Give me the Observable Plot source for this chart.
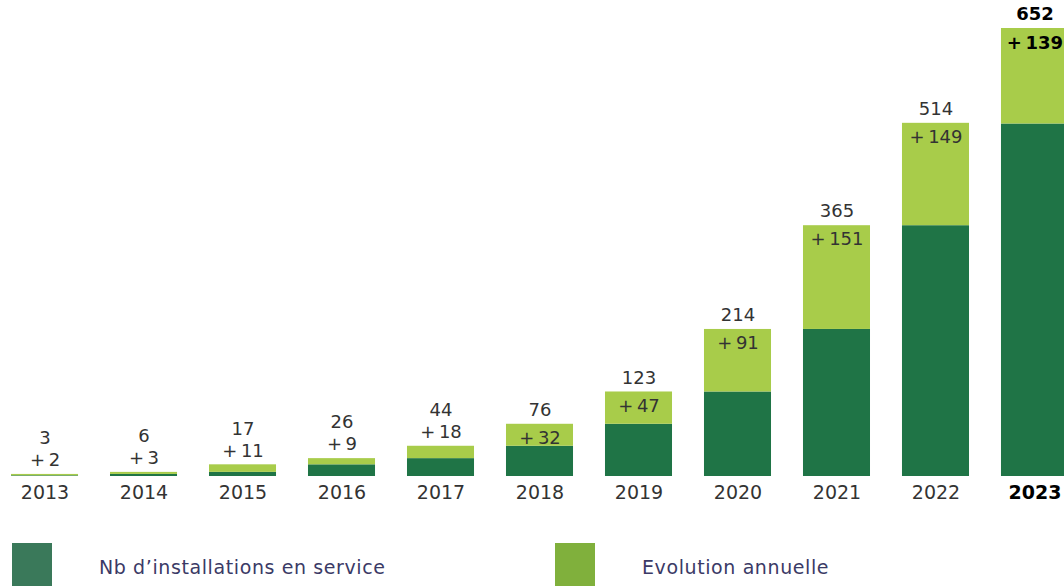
<!DOCTYPE html>
<html><head><meta charset="utf-8">
<script src="https://cdn.jsdelivr.net/npm/d3@7"></script>
<script src="https://cdn.jsdelivr.net/npm/@observablehq/plot@0.6"></script>
<style>
body{margin:0;background:#fff;width:1064px;height:586px;overflow:hidden;position:relative;font-family:"DejaVu Sans",sans-serif;}
.leg{position:absolute;top:543px;width:40px;height:43px;}
.legt{position:absolute;top:556px;font-family:"DejaVu Sans",sans-serif;font-size:19px;color:#3b3a66;letter-spacing:0.6px;}
</style></head><body>
<div id="chart"></div>
<div class="leg" style="left:12px;background:#3a795a"></div>
<div class="legt" style="left:99px">Nb d’installations en service</div>
<div class="leg" style="left:555px;background:#80b03c"></div>
<div class="legt" style="left:642px">Evolution annuelle</div>
<script>
const years = ["2013","2014","2015","2016","2017","2018","2019","2020","2021","2022","2023"];
const totals = [3,6,17,26,44,76,123,214,365,514,652];
const increments = [2,3,11,9,18,32,47,91,151,149,139];

const rows = years.flatMap((y,i)=>[
  {year:y, part:"Nb d’installations en service", value: totals[i]-increments[i]},
  {year:y, part:"Evolution annuelle", value: increments[i]}
]);
const lab = years.map((y,i)=>({year:y, total:totals[i], inc:increments[i]}));
const small = lab.filter(d=>d.total<70);
const tall = lab.filter(d=>d.total>=70 && d.year!=="2023");
const last = lab.filter(d=>d.year==="2023");
const reg = lab.filter(d=>d.year!=="2023");
const T = {fontSize:18, fill:"#333", fontFamily:"DejaVu Sans"};
const B = {fontSize:18, fill:"#000", fontWeight:"bold", fontFamily:"DejaVu Sans"};
const tot = d=>String(d.total);
const inc = d=>"+\u2009"+d.inc;

const chart = Plot.plot({
  width:1064, height:520,
  marginTop:0, marginBottom:44, marginLeft:0, marginRight:0,
  x:{domain:years, range:[11,1068], paddingInner:0.323, paddingOuter:0, round:false, axis:null},
  y:{domain:[0,652], range:[476,28], axis:null},
  color:{domain:["Nb d’installations en service","Evolution annuelle"], range:["#1f7446","#a8cc4a"]},
  marks:[
    Plot.barY(rows, {x:"year", y:"value", fill:"part", order:["Nb d’installations en service","Evolution annuelle"]}),
    Plot.text(small, {x:"year", y:"total", text:tot, dy:-36, ...T}),
    Plot.text(small, {x:"year", y:"total", text:inc, dy:-14, ...T}),
    Plot.text(tall, {x:"year", y:"total", text:tot, dy:-14, ...T}),
    Plot.text(tall, {x:"year", y:"total", text:inc, dy:14, ...T}),
    Plot.text(last, {x:"year", y:"total", text:tot, dy:-14, ...B}),
    Plot.text(last, {x:"year", y:"total", text:inc, dy:15, ...B}),
    Plot.text(reg, {x:"year", y:0, text:"year", dy:16, ...T, fontSize:19, style:"letter-spacing:1.5px"}),
    Plot.text(last, {x:"year", y:0, text:"year", dy:16, ...B, fontSize:19, style:"letter-spacing:1.5px"})
  ]
});
document.getElementById("chart").appendChild(chart);
</script>
</body></html>
